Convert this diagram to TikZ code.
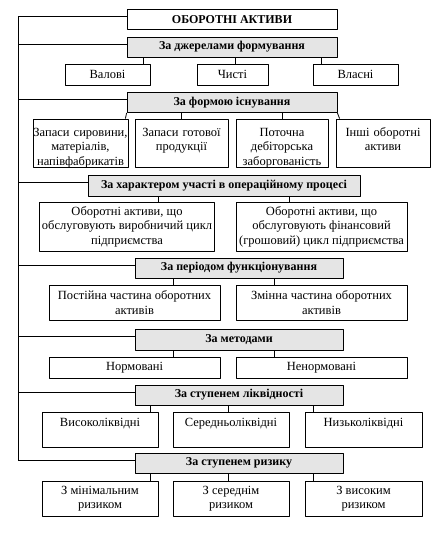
\documentclass[tikz,border=0pt]{standalone}
\usepackage{fontspec}
\setmainfont{Liberation Serif}
\tikzset{
  hdr/.style={draw, thick, fill=gray!20, font=\fontsize{12}{13}\selectfont\bfseries, inner sep=1pt, minimum height=20},
  box/.style={draw, thick, align=center, inner sep=2pt, font=\fontsize{12.5}{14.5}\selectfont},
  topbox/.style={box, text height=9pt},
}
\begin{document}
\begin{tikzpicture}[x=1pt, y=-1pt, line join=round]
	\useasboundingbox (0,0) rectangle (442,536);
	\coordinate (spine) at (18,0);
	% root and criteria
	\node[hdr, fill=white, minimum width=210] (root) at (232,19.5) {ОБОРОТНІ АКТИВИ};
	\node[hdr, minimum width=210] (h1) at (232,47) {За джерелами формування};
	\node[hdr, minimum width=210] (h2) at (232,102.5) {За формою існування};
	\node[hdr, minimum width=272, minimum height=21] (h3) at (224,185.5) {За характером участі в операційному процесі};
	\node[hdr, minimum width=208] (h4) at (239,268) {За періодом функціонування};
	\node[hdr, minimum width=208, minimum height=21] (h5) at (239,339.5) {За методами};
	\node[hdr, minimum width=208] (h6) at (239,395) {За ступенем ліквідності};
	\node[hdr, minimum width=208] (h7) at (239,463) {За ступенем ризику};
	% sources
	\node[box, minimum width=85, minimum height=21] (c1a) at (107.5,74.5) {Валові};
	\node[box, minimum width=71, minimum height=21] (c1b) at (232.5,74.5) {Чисті};
	\node[box, minimum width=85, minimum height=21] (c1c) at (355.5,74.5) {Власні};
	% form
	\node[topbox, text width=91, minimum height=48, text height=14pt, text depth=28pt] (c2a) at (80.5,143) {\makebox[0pt]{Запаси сировини,}\\матеріалів,\\напівфабрикатів};
	\node[topbox, text width=89, minimum height=48, text height=14pt, text depth=28pt] (c2b) at (181.5,143) {Запаси готової\\продукції};
	\node[topbox, text width=88, minimum height=48, text height=14pt, text depth=28pt] (c2c) at (282,143) {Поточна\\дебіторська\\заборгованість};
	\node[topbox, text width=90, minimum height=48, text height=14pt, text depth=28pt] (c2d) at (383,143) {Інші оборотні\\активи};
	% operating process
	\node[box, minimum width=170, minimum height=49] (c3a) at (127,226.5) {Оборотні активи, що\\обслуговують виробничий цикл\\підприємства};
	\node[box, minimum width=171, minimum height=49] (c3b) at (321.5,226.5) {Оборотні активи, що\\обслуговують фінансовий\\(грошовий) цикл підприємства};
	% period
	\node[box, minimum width=171, minimum height=35] (c4a) at (134.5,302.5) {Постійна частина оборотних\\активів};
	\node[box, minimum width=171, minimum height=35] (c4b) at (321.5,302.5) {Змінна частина оборотних\\активів};
	% methods
	\node[box, minimum width=171, minimum height=21] (c5a) at (134.5,367.5) {Нормовані};
	\node[box, minimum width=171, minimum height=21] (c5b) at (321.5,367.5) {Ненормовані};
	% liquidity
	\node[topbox, text width=112, minimum height=35, text depth=16pt] (c6a) at (100,429.5) {Високоліквідні};
	\node[topbox, text width=112, minimum height=35, text depth=16pt] (c6b) at (231,429.5) {Середньоліквідні};
	\node[topbox, text width=113, minimum height=35, text depth=16pt] (c6c) at (363.5,429.5) {Низьколіквідні};
	% risk
	\node[box, minimum width=116, minimum height=35] (c7a) at (100,498.5) {З мінімальним\\ризиком};
	\node[box, minimum width=116, minimum height=35] (c7b) at (231,498.5) {З середнім\\ризиком};
	\node[box, minimum width=117, minimum height=35] (c7c) at (363.5,498.5) {З високим\\ризиком};

	% spine on the left
	\draw[thick] ([yshift=3pt]root.west -| spine) -- ([yshift=3pt]h7.west -| spine);
	\foreach \h in {root,h1,h2,h3,h4,h5,h6,h7}
		\draw[thick] ([yshift=3pt]\h.west) -- ([yshift=3pt]\h.west -| spine);

	% criteria to groups
	\draw[thick] (h1.south -| 143,0) -- (c1a.north -| 143,0);
	\draw[thick] (h1.south -| 235,0) -- (c1b.north -| 235,0);
	\draw[thick] (h1.south -| 321,0) -- (c1c.north -| 321,0);
	\draw[thick] (h2.south west) -- ([xshift=-3pt]c2a.north east);
	\draw[thick] (h2.south -| 181,0) -- (c2b.north -| 181,0);
	\draw[thick] (h2.south -| 282,0) -- (c2c.north -| 282,0);
	\draw[thick] (h2.south east) -- ([xshift=4pt]c2d.north west);
	\draw[thick] (h3.south -| 158,0) -- (c3a.north -| 158,0);
	\draw[thick] (h3.south -| 289,0) -- (c3b.north -| 289,0);
	\draw[thick] (h4.south -| 173,0) -- (c4a.north -| 173,0);
	\draw[thick] (h4.south -| 274,0) -- (c4b.north -| 274,0);
	\draw[thick] (h5.south -| 173,0) -- (c5a.north -| 173,0);
	\draw[thick] (h5.south -| 274,0) -- (c5b.north -| 274,0);
	\draw[thick] (h6.south -| 150,0) -- (c6a.north -| 150,0);
	\draw[thick] (h6.south -| 228,0) -- (c6b.north -| 228,0);
	\draw[thick] (h6.south -| 313,0) -- (c6c.north -| 313,0);
	\draw[thick] (h7.south -| 150,0) -- (c7a.north -| 150,0);
	\draw[thick] (h7.south -| 228,0) -- (c7b.north -| 228,0);
	\draw[thick] (h7.south -| 313,0) -- (c7c.north -| 313,0);
\end{tikzpicture}
\end{document}
